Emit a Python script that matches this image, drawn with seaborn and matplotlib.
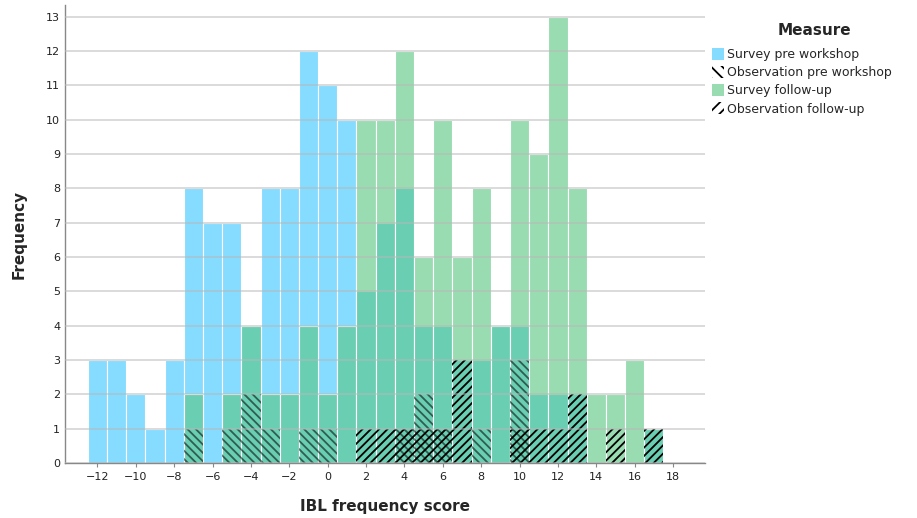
import numpy as np
import pandas as pd
import matplotlib
matplotlib.use("Agg")
import matplotlib.pyplot as plt
from matplotlib.patches import Patch
import seaborn as sns

# Counts per IBL frequency score
survey_pre_scores = list(range(-12, 18))
survey_pre_counts = [3, 3, 2, 1, 3, 8, 7, 7, 4, 8, 8, 12, 11, 10, 5, 7, 8, 4, 4, 3, 3, 4, 4, 2, 2, 2, 0, 0, 0, 1]

obs_pre_scores = [-7, -5, -4, -3, -1, 0, 4, 5, 6, 8, 10]
obs_pre_counts = [1, 1, 2, 1, 1, 1, 1, 2, 1, 1, 3]

survey_fu_scores = list(range(-7, 18))
survey_fu_counts = [2, 0, 2, 4, 2, 2, 4, 2, 4, 10, 10, 12, 6, 10, 6, 8, 4, 10, 9, 13, 8, 2, 2, 3, 1]

obs_fu_scores = [2, 3, 4, 5, 6, 7, 10, 11, 12, 13, 15, 17]
obs_fu_counts = [1, 1, 1, 1, 1, 3, 1, 1, 1, 2, 1, 1]

labels = ["Survey pre workshop", "Observation pre workshop", "Survey follow-up", "Observation follow-up"]

BLUE = "#86DCFF"
GREEN = "#57C680"

sns.set_style("white")
plt.rcParams["font.family"] = ["DejaVu Sans"]
plt.rcParams["hatch.linewidth"] = 1.3

fig = plt.figure(figsize=(9.17, 5.18), dpi=100)
ax = fig.add_axes([0.0709, 0.106, 0.698, 0.884])

# survey pre workshop
sns.histplot(x=survey_pre_scores, weights=survey_pre_counts, discrete=True, ax=ax,
             color=BLUE, alpha=1.0, edgecolor="white", linewidth=0.8)

# survey follow-up, translucent so overlap turns teal
sns.histplot(x=survey_fu_scores, weights=survey_fu_counts, discrete=True, ax=ax,
             color=GREEN, alpha=0.6, edgecolor="white", linewidth=0.8)

# observation bars: hatch only
def hatched(scores, counts, hatch, col):
    n0 = len(ax.patches)
    sns.histplot(x=scores, weights=counts, discrete=True, ax=ax, color=col)
    for p in ax.patches[n0:]:
        p.set_facecolor("none")
        p.set_edgecolor(col)
        p.set_hatch(hatch)
        p.set_linewidth(0)

hatched(obs_pre_scores, obs_pre_counts, "\\\\\\\\", (0.0, 0.0, 0.0, 0.55))
hatched(obs_fu_scores, obs_fu_counts, "////", (0.0, 0.0, 0.0, 1.0))

ax.set_xlim(-13.69, 19.67)
ax.set_ylim(0, 13.33)
ax.set_xticks(np.arange(-12, 19, 2))
ax.set_xticklabels([str(t).replace("-", "\u2212") for t in range(-12, 19, 2)])
ax.set_yticks(np.arange(0, 14, 1))
ax.yaxis.grid(True, color="#b8b8b8", linewidth=1.2, alpha=0.6)
ax.set_axisbelow(False)
ax.tick_params(axis="both", labelsize=8, colors="#222222")
ax.tick_params(axis="x", length=3, width=0.8, color="#888888", bottom=True)
ax.tick_params(axis="y", length=0)

for s in ["top", "right"]:
    ax.spines[s].set_visible(False)
for s in ["left", "bottom"]:
    ax.spines[s].set_color("#888888")
    ax.spines[s].set_linewidth(1.0)

ax.set_xlabel("IBL frequency score", fontsize=11, fontweight="bold", labelpad=12)
ax.set_ylabel("Frequency", fontsize=11, fontweight="bold", labelpad=14)

handles = [
    Patch(facecolor=BLUE, edgecolor="none"),
    Patch(facecolor="none", edgecolor="black", hatch="\\\\\\", linewidth=0),
    Patch(facecolor=GREEN, alpha=0.6, edgecolor="none"),
    Patch(facecolor="none", edgecolor="black", hatch="///", linewidth=0),
]
fig.text(0.888, 0.942, "Measure", ha="center", va="center", fontsize=11, fontweight="bold")
fig.legend(handles, labels, loc="upper left",
           bbox_to_anchor=(0.776, 0.908), frameon=False, fontsize=9,
           handlelength=1.0, handleheight=1.1, handletextpad=0.25,
           labelspacing=0.4, borderaxespad=0, borderpad=0)

fig.savefig("out.png", dpi=100)
